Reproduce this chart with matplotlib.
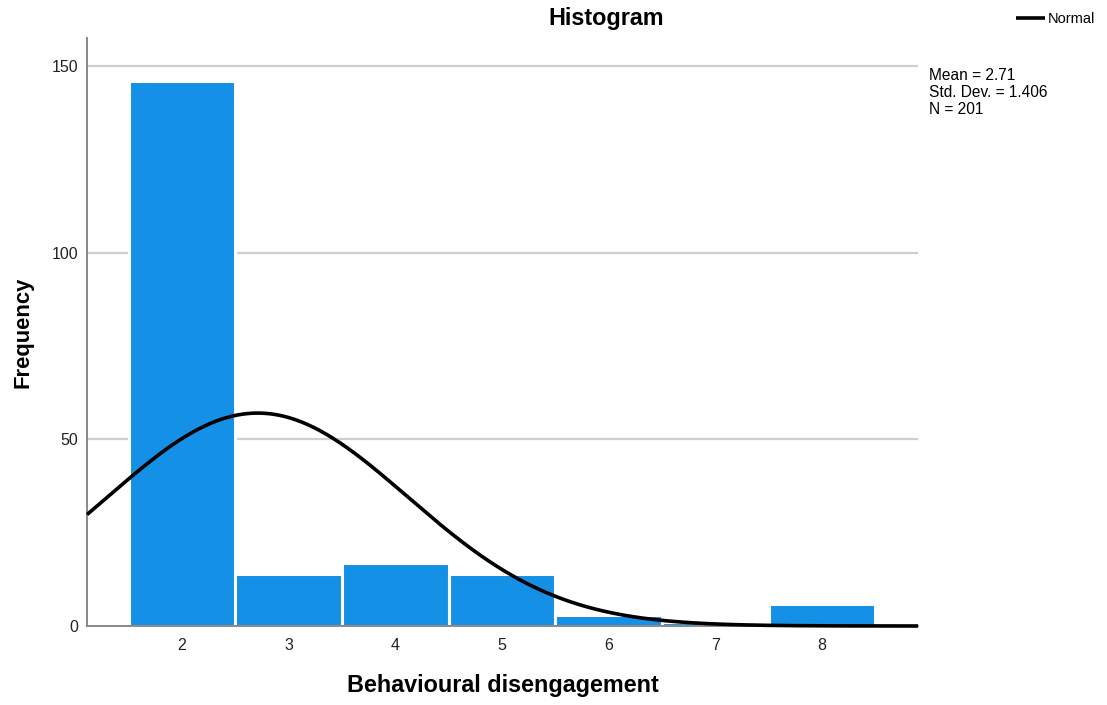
import numpy as np
import matplotlib
matplotlib.use("Agg")
import matplotlib.pyplot as plt

plt.rcParams['font.family'] = ['Liberation Sans', 'DejaVu Sans']

# Behavioural disengagement scores and their counts
scores = [2, 3, 4, 5, 6, 7, 8]
counts = [146, 14, 17, 14, 3, 1, 6]
mean_val = 2.71
std_val = 1.406
n_total = 201
y_ticks = [0, 50, 100, 150]

fig = plt.figure(figsize=(11.07, 7.05), dpi=100)
ax = fig.add_axes([87 / 1107, 1 - 626 / 705, (918 - 87) / 1107, (626 - 38) / 705])

ax.set_xlim(1.11, 8.9)
ax.set_ylim(0, 157.5)

for yv in y_ticks[1:]:
    ax.axhline(yv, color='#cfcfcf', linewidth=1.6, zorder=0)

ax.bar(scores, counts, width=1.0, color='#1490E6', edgecolor='#ffffff',
       linewidth=2.2, zorder=2)

xs = np.linspace(1.11, 8.9, 400)
pdf = n_total / (std_val * np.sqrt(2 * np.pi)) * np.exp(-0.5 * ((xs - mean_val) / std_val) ** 2)
line, = ax.plot(xs, pdf, color='black', linewidth=2.6, zorder=3, clip_on=False,
                solid_capstyle='butt')

ax.set_xticks(scores)
ax.set_xticklabels([str(s) for s in scores])
ax.set_yticks(y_ticks)
ax.tick_params(axis='x', length=0, pad=9, labelsize=11.5, colors='#222222')
ax.tick_params(axis='y', length=0, pad=6.5, labelsize=11.5, labelcolor='#222222')

for side in ['top', 'right']:
    ax.spines[side].set_visible(False)
for side in ['left', 'bottom']:
    ax.spines[side].set_color('#888888')
    ax.spines[side].set_linewidth(1.4)

ax.set_xlabel('Behavioural disengagement', fontsize=16.8, fontweight='bold', labelpad=15)
ax.set_ylabel('Frequency', fontsize=15.8, fontweight='bold', labelpad=13)

fig.text(606 / 1107, 1 - 18 / 705, 'Histogram', ha='center', va='center',
         fontsize=16.8, fontweight='bold')

fig.text(929 / 1107, 1 - 68 / 705,
         f'Mean = {mean_val:.2f}\nStd. Dev. = {std_val:.3f}\nN = {n_total}',
         ha='left', va='top', fontsize=11.2, linespacing=1.15)

fig.legend([line], ['Normal'], loc='upper right', bbox_to_anchor=(1.0, 1.0),
           frameon=False, fontsize=10.5, handlelength=2.0, handletextpad=0.2,
           borderaxespad=0.4)

fig.savefig('out.png', dpi=100)
